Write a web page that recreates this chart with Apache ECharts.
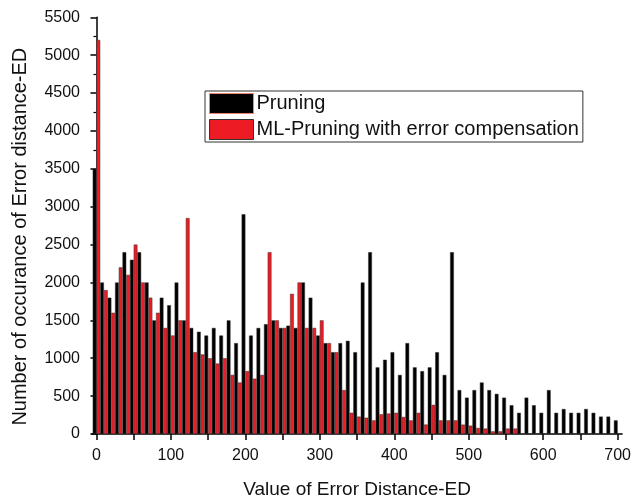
<!DOCTYPE html>
<html><head><meta charset="utf-8">
<script src="https://cdn.jsdelivr.net/npm/echarts@6/dist/echarts.min.js"></script>
<style>html,body{margin:0;padding:0;background:#fff}#c{width:634px;height:504px}</style>
</head><body><div id="c"></div>
<script>
const errorDistance = [0,10,20,30,40,50,60,70,80,90,100,110,120,130,140,150,160,170,180,190,200,210,220,230,240,250,260,270,280,290,300,310,320,330,340,350,360,370,380,390,400,410,420,430,440,450,460,470,480,490,500,510,520,530,540,550,560,570,580,590,600,610,620,630,640,650,660,670,680,690,700];
const pruning = [3500,2000,1800,2000,2400,2300,2400,2000,1500,1800,1700,2000,1500,1400,1350,1300,1400,1300,1500,1200,2900,1300,1400,1450,1500,1400,1430,1400,2000,1800,1300,1200,1080,1200,1230,1080,2000,2400,880,980,1080,780,1200,880,830,880,1080,780,2400,580,480,580,680,580,530,480,380,280,480,380,280,580,280,330,280,280,330,280,230,230,180];
const mlPruning = [5200,1900,1600,2200,2100,2500,2000,1800,1600,1400,1300,1500,2850,1080,1050,1000,930,1000,780,680,830,730,780,2400,1500,1400,1850,2000,1400,1400,1500,1200,1080,580,280,230,215,180,260,270,280,225,180,280,125,385,180,180,180,124,110,80,72,35,35,72,72,0,0,0,0,0,0,0,0,0,0,0,0,0,0];
const xTickLabels = [0,100,200,300,400,500,600,700];
const xTicks = [0,50,100,150,200,250,300,350,400,450,500,550,600,650,700];
const seriesNames = ['Pruning','ML-Pruning with error compensation'];

const chart = echarts.init(document.getElementById('c'), null, {renderer:'canvas'});
const font = 'Liberation Sans, Arial, sans-serif';
const pairs = (vals) => errorDistance.map((x,i) => [x, vals[i] === 0 ? null : vals[i]]);
chart.setOption({
  animation: false,
  textStyle: {fontFamily: font},
  grid: {left: 92, right: 8, top: 17.3, bottom: 63.5},
  legend: {
    orient: 'vertical', left: 205, top: 91,
    itemWidth: 44, itemHeight: 20, itemGap: 5,
    padding: [2, 4, 2, 4],
    borderColor: '#333', borderWidth: 1,
    icon: 'rect',
    textStyle: {fontSize: 20, color: '#111', fontFamily: font, padding: [0,0,0,-2]},
    data: [
      {name: seriesNames[0], itemStyle: {color: '#000', borderColor: '#f08070', borderWidth: 1}},
      {name: seriesNames[1], itemStyle: {color: '#ed1c24', borderColor: '#333', borderWidth: 1}}
    ]
  },
  xAxis: {
    type: 'value', min: -6, max: 706,
    name: 'Value of Error Distance-ED', nameLocation: 'middle', nameGap: 46,
    nameTextStyle: {fontSize: 19, color: '#111', fontFamily: font},
    axisLine: {lineStyle: {color: '#000', width: 1.5}},
    axisTick: {show: true, length: 6, inside: false, customValues: xTicks, lineStyle: {color: '#000', width: 1.5}},
    axisLabel: {customValues: xTickLabels, fontSize: 16, color: '#111', margin: 14, formatter: v => String(v)},
    splitLine: {show: false}
  },
  yAxis: {
    type: 'value', min: 0, max: 5500, interval: 500,
    name: 'Number of occurance of Error distance-ED', nameLocation: 'middle', nameGap: 62,
    nameTextStyle: {fontSize: 20, color: '#111', fontFamily: font, padding: [0, 22, 0, 0]},
    axisLine: {show: true, lineStyle: {color: '#000', width: 1.5}},
    axisTick: {show: true, length: 6, lineStyle: {color: '#000', width: 1.5}},
    minorTick: {show: true, splitNumber: 2, length: 3, lineStyle: {color: '#000', width: 1.2}},
    axisLabel: {fontSize: 16, color: '#111', margin: 12, formatter: v => String(v)},
    splitLine: {show: false}
  },
  series: [
    {name: seriesNames[0], type: 'bar', barWidth: 3.75, barGap: '0%',
     itemStyle: {color: '#000', borderColor: '#333', borderWidth: 0.5},
     data: pairs(pruning)},
    {name: seriesNames[1], type: 'bar', barWidth: 3.75, barGap: '0%',
     itemStyle: {color: '#ed1c24', borderColor: '#333', borderWidth: 0.5},
     data: pairs(mlPruning)}
  ]
});
</script>
</body></html>
